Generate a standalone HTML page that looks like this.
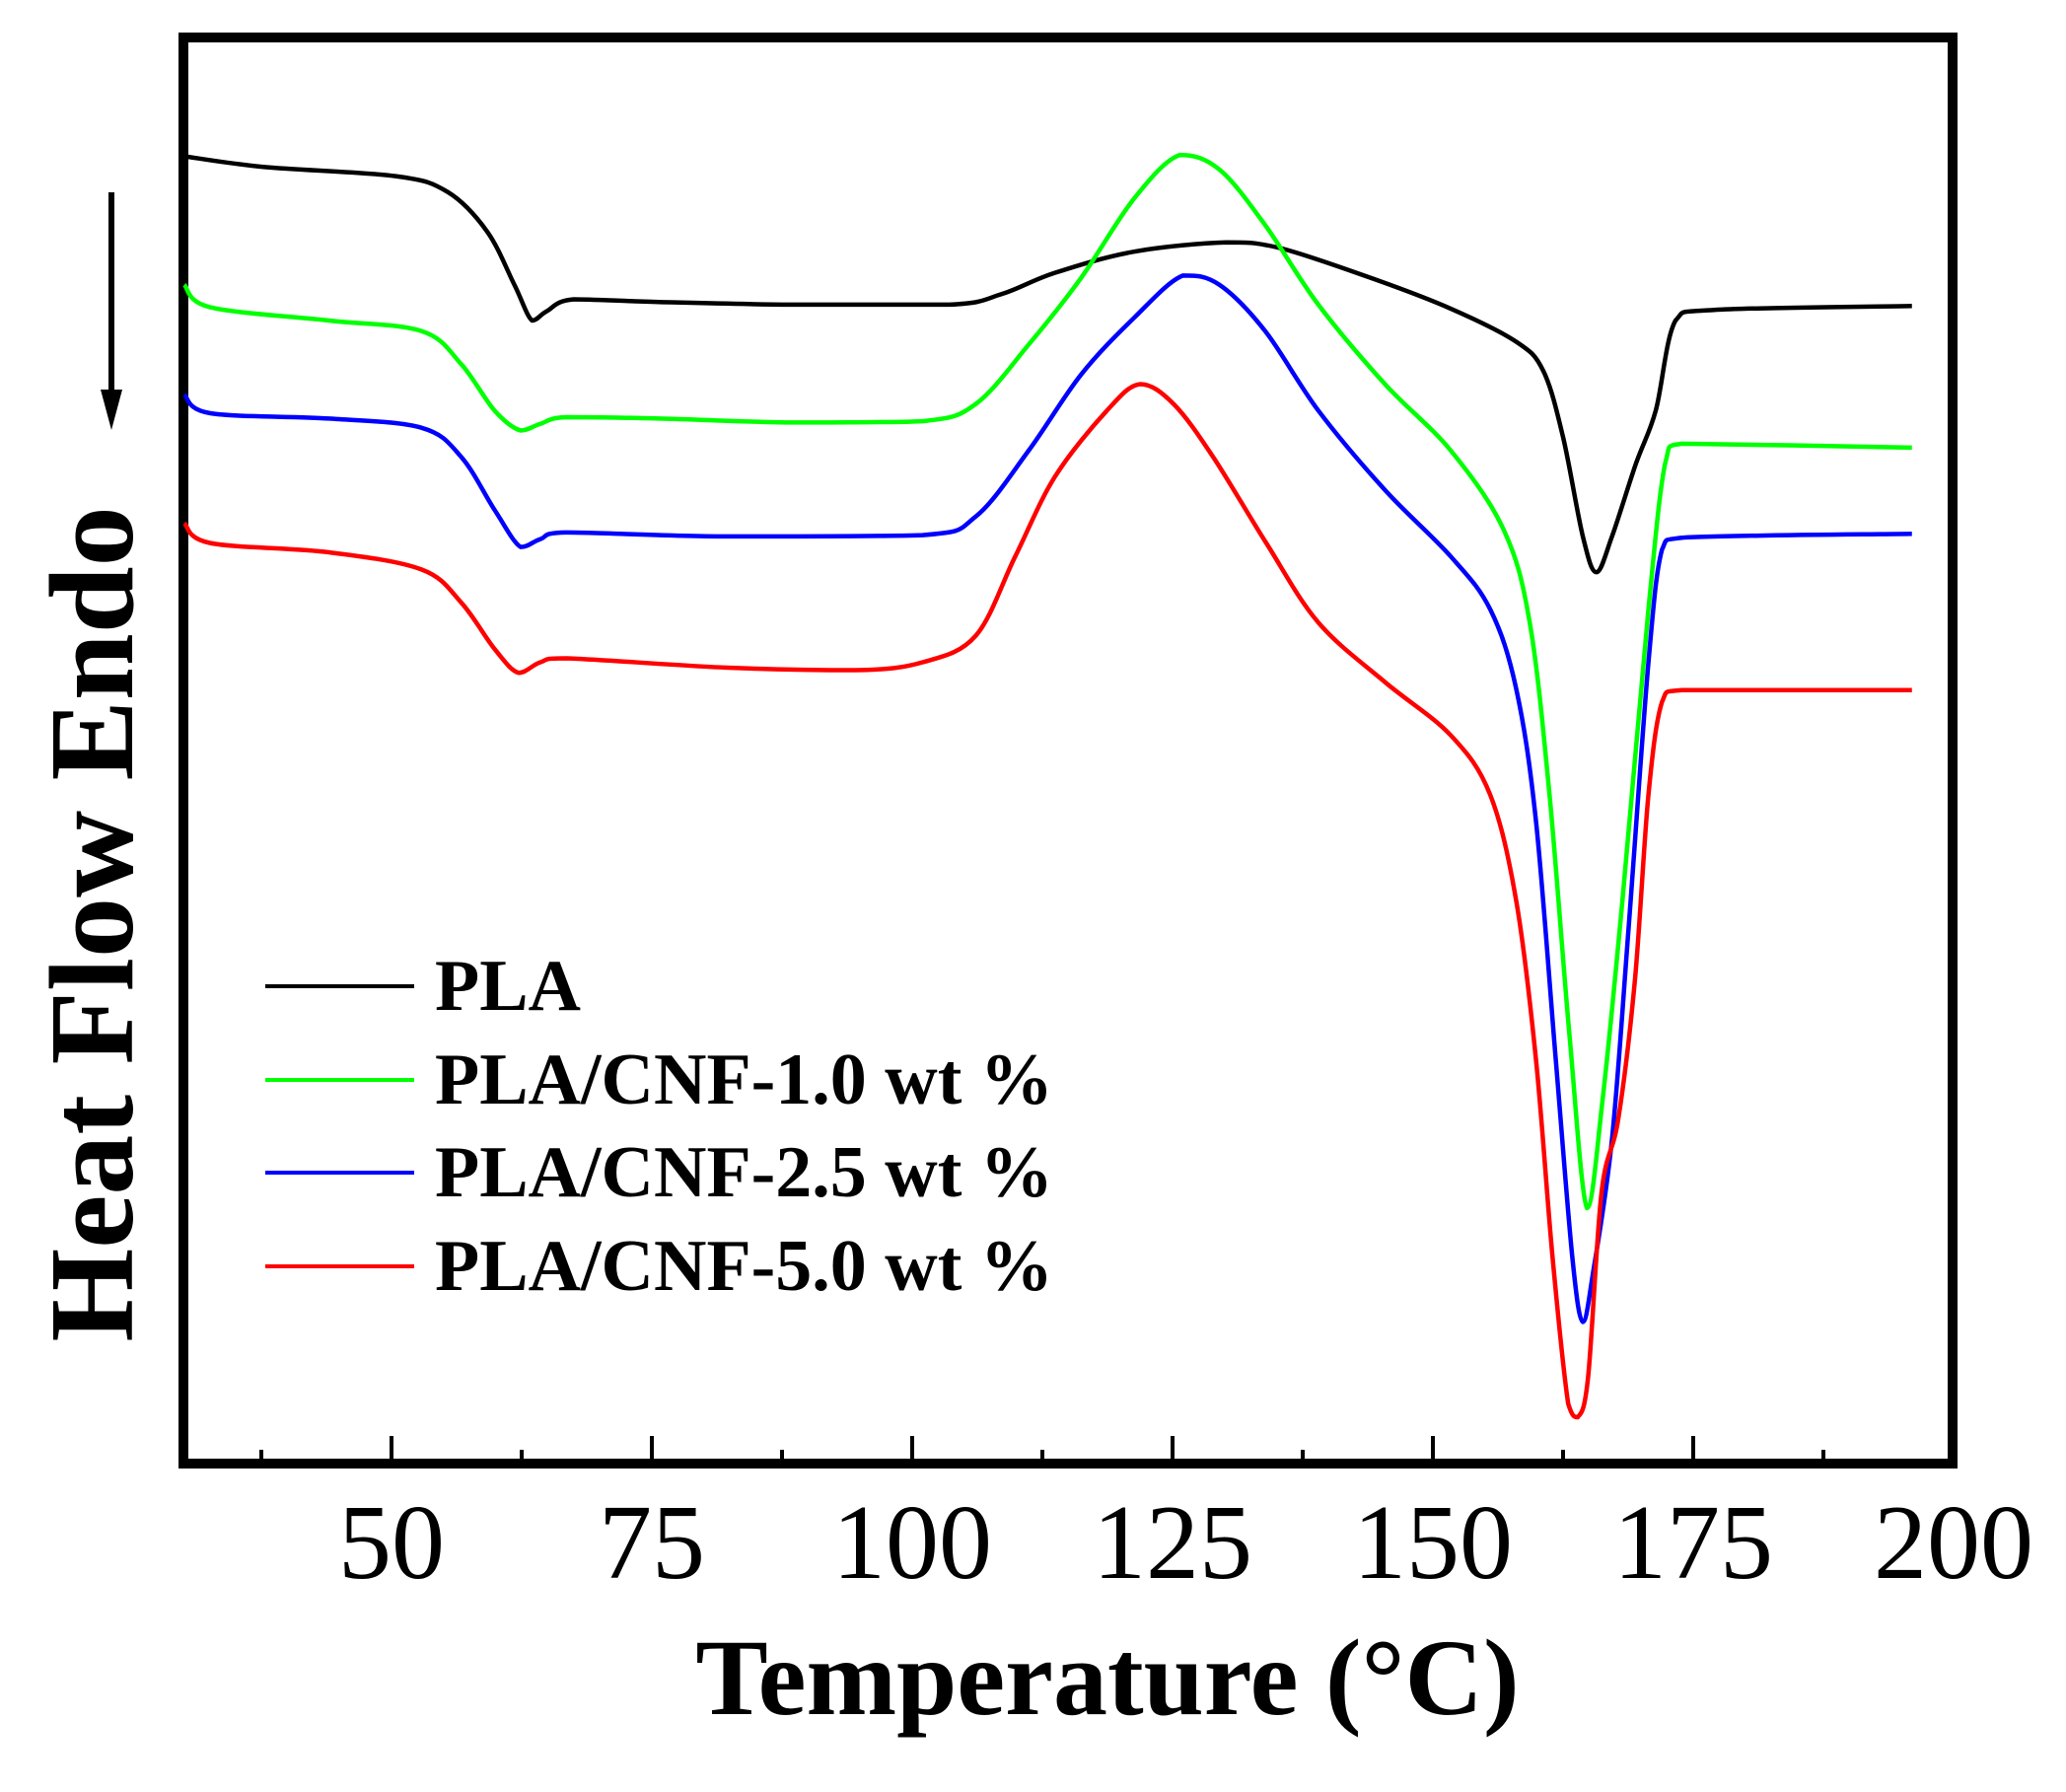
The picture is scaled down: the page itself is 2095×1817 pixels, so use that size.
<!DOCTYPE html>
<html><head><meta charset="utf-8"><style>
html,body{margin:0;padding:0;background:#fff;}
svg{display:block;}
text{font-family:"Liberation Serif",serif;}
</style></head><body>
<svg id="chart" width="2095" height="1817" viewBox="0 0 2095 1817" xmlns="http://www.w3.org/2000/svg">
<rect x="186" y="38" width="1794" height="1446" fill="none" stroke="#000" stroke-width="10"/>
<g id="ticks"></g>
<g id="curves"></g>
<text x="1123" y="1738" font-size="110" font-weight="bold" text-anchor="middle">Temperature (°C)</text>
<text transform="translate(134,937) rotate(-90)" font-size="122" font-weight="bold" text-anchor="middle">Heat Flow Endo</text>
<g>
<line x1="113" y1="195" x2="113" y2="400" stroke="#000" stroke-width="6"/>
<polygon points="102,395 124,395 113,436" fill="#000"/>
</g>
<g>
<g><line x1="269" y1="1000" x2="420" y2="1000" stroke="#000" stroke-width="4"/><text x="441" y="1024" font-size="74" font-weight="bold">PLA</text></g>
<g><line x1="269" y1="1095" x2="420" y2="1095" stroke="#00ff00" stroke-width="4"/><text x="441" y="1119" font-size="74" font-weight="bold">PLA/CNF-1.0 wt %</text></g>
<g><line x1="269" y1="1189" x2="420" y2="1189" stroke="#0000ff" stroke-width="4"/><text x="441" y="1213" font-size="74" font-weight="bold">PLA/CNF-2.5 wt %</text></g>
<g><line x1="269" y1="1284" x2="420" y2="1284" stroke="#ff0000" stroke-width="4"/><text x="441" y="1308" font-size="74" font-weight="bold">PLA/CNF-5.0 wt %</text></g>
</g>
</svg>
<script>
const majorTicks=[50,75,100,125,150,175,200];
const minorTicks=[37.5,62.5,87.5,112.5,137.5,162.5,187.5];
const tempPLA=[30.1,37.7,50.4,55.4,59.2,61.8,63.5,64.9,67.5,75.7,88.4,103.6,108.6,113.7,121.3,130.2,135.2,144.1,151.7,158,160.6,162.5,164.4,165.7,167.2,169.5,171.4,173.3,177,196];
const flowPLA=[118,126,133,145,175,215,242,235,226,228,230,230,222,206,190,183,187,210,233,258,280,330,405,432,405,350,310,242,234,231];
const tempC1=[30.1,32.6,44,52.9,56.7,59.9,62.4,64.3,66.8,75.7,88.4,101,106.1,111.2,116.2,121.3,125.7,129.5,133.9,139,145.4,151.7,156.8,159.3,161.2,163.1,164.8,166.3,168.2,170.7,172.3,173.9,196];
const flowC1=[215,232,242,250,275,310,325,320,315,316,319,318,305,260,210,150,117,128,170,230,290,340,400,470,600,780,912,830,680,460,350,335,338];
const tempC25=[30.1,32.6,44,52.9,56.7,59.9,62.4,64.3,66.8,82,101,106.1,111.2,116.2,121.3,126,129.5,133.9,139,145.4,151.7,155.5,158,159.9,161.8,163.4,164.4,165.4,167.2,168.8,170.7,172,173.9,196];
const flowC25=[298,312,316,323,345,385,413,407,402,405,404,390,340,283,240,208,215,250,310,370,420,460,520,620,800,950,998,960,860,700,500,415,406,403];
const tempC5=[30.1,32.6,44,52.9,56.7,59.9,62.2,64.3,66.8,82,94.6,101,106.1,109.9,113.7,118.7,121.9,125.1,128.9,134,139,145.4,151.7,155.5,158,159.9,161.5,163,163.9,164.9,166.2,167.8,169.4,170.7,172,173.9,196];
const flowC5=[395,410,417,430,455,490,508,500,497,504,506,500,480,420,360,310,290,305,345,410,470,515,555,600,680,800,950,1060,1070,1040,900,845,740,600,530,521,521];
const S=1.343;
function xScale(t){return 397+(t-50)*10.56;}
function yScale(v){return v*S;}
const NS="http://www.w3.org/2000/svg";
const tg=document.getElementById('ticks');
majorTicks.forEach(t=>{
 const x=xScale(t);
 if(x<1978){const l=document.createElementNS(NS,'line');
 l.setAttribute('x1',x);l.setAttribute('x2',x);l.setAttribute('y1',1479);l.setAttribute('y2',1456);
 l.setAttribute('stroke','#000');l.setAttribute('stroke-width',4);
 
 
 tg.appendChild(l);}
 const tx=document.createElementNS(NS,'text');
 tx.setAttribute('x',x);tx.setAttribute('y',1600);tx.setAttribute('font-size',108);tx.setAttribute('text-anchor','middle');
 tx.textContent=t;
 
 
 tg.appendChild(tx);
});
minorTicks.forEach(t=>{
 const x=xScale(t);
 const l=document.createElementNS(NS,'line');
 l.setAttribute('x1',x);l.setAttribute('x2',x);l.setAttribute('y1',1479);l.setAttribute('y2',1470);
 l.setAttribute('stroke','#000');l.setAttribute('stroke-width',4);
 
 
 tg.appendChild(l);
});
function clamp(v,a,b){const lo=Math.min(a,b),hi=Math.max(a,b);return Math.max(lo,Math.min(hi,v));}
function path(ts,vs){
 const p=ts.map((t,i)=>[xScale(t),yScale(vs[i])]);
 let d='M'+p[0][0]+','+p[0][1];
 for(let i=0;i<p.length-1;i++){
  const p0=p[i-1]||p[i],p1=p[i],p2=p[i+1],p3=p[i+2]||p2;
  const c1=[p1[0]+(p2[0]-p0[0])/6,clamp(p1[1]+(p2[1]-p0[1])/6,p1[1],p2[1])];
  const c2=[p2[0]-(p3[0]-p1[0])/6,clamp(p2[1]-(p3[1]-p1[1])/6,p1[1],p2[1])];
  c1[0]=clamp(c1[0],p1[0],p2[0]);c2[0]=clamp(c2[0],p1[0],p2[0]);
  d+=' C'+c1+' '+c2+' '+p2;
 }
 return d;
}
const cg=document.getElementById('curves');
[[tempPLA,flowPLA,'#000','curve-pla'],[tempC1,flowC1,'#00ff00','curve-cnf-1'],[tempC25,flowC25,'#0000ff','curve-cnf-2-5'],[tempC5,flowC5,'#ff0000','curve-cnf-5']].forEach(s=>{
 const e=document.createElementNS(NS,'path');
 e.setAttribute('d',path(s[0],s[1]));
 e.setAttribute('fill','none');e.setAttribute('stroke',s[2]);e.setAttribute('stroke-width',4.5);
 
 
 cg.appendChild(e);
});
</script>
</body></html>
